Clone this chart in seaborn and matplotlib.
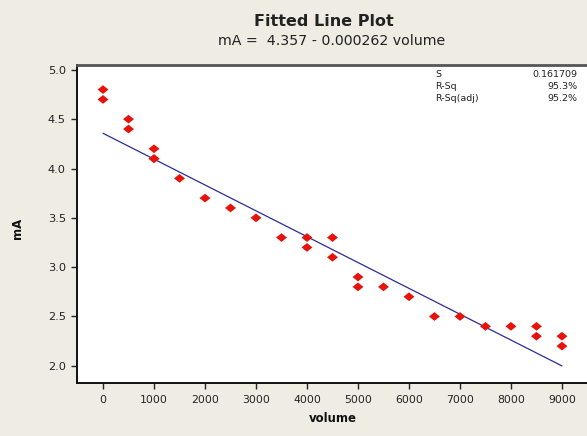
import matplotlib

matplotlib.use("Agg")
import matplotlib.pyplot as plt
import pandas as pd
import seaborn as sns

volume = [0, 0, 500, 500, 1000, 1000, 1000, 1500, 2000, 2500, 3000, 3500,
          4000, 4000, 4500, 4500, 5000, 5000, 5500, 6000, 6500, 7000, 7500,
          8000, 8500, 8500, 9000, 9000]
ma = [4.8, 4.7, 4.5, 4.4, 4.2, 4.1, 4.1, 3.9, 3.7, 3.6, 3.5, 3.3,
      3.3, 3.2, 3.3, 3.1, 2.9, 2.8, 2.8, 2.7, 2.5, 2.5, 2.4,
      2.4, 2.4, 2.3, 2.3, 2.2]

intercept = 4.357
slope = -0.000262
fit_range = [0, 9000]

stat_names = ["S", "R-Sq", "R-Sq(adj)"]
stat_values = ["0.161709", "95.3%", "95.2%"]

x_ticks = [0, 1000, 2000, 3000, 4000, 5000, 6000, 7000, 8000, 9000]
y_ticks = [2.0, 2.5, 3.0, 3.5, 4.0, 4.5, 5.0]

bg = "#efece4"
ink = "#222222"

sns.set_style("white")
plt.rcParams["font.family"] = ["DejaVu Sans"]

frame = pd.DataFrame({"volume": volume, "mA": ma})
fit = pd.DataFrame({"volume": fit_range})
fit["mA"] = intercept + slope * fit["volume"]

fig = plt.figure(figsize=(5.87, 4.36), dpi=100, facecolor=bg)
ax = fig.add_axes([0.1312, 0.1216, 0.88, 0.7295])
ax.set_facecolor("white")

# slightly wide diamond like the Minitab symbol
diamond = [(-1.0, 0.0), (0.0, 0.8), (1.0, 0.0), (0.0, -0.8), (-1.0, 0.0)]

sns.lineplot(data=fit, x="volume", y="mA", ax=ax, color="#2b2b9c", linewidth=0.9)
sns.scatterplot(data=frame, x="volume", y="mA", ax=ax, marker=diamond, s=62,
                color="#e8120c", edgecolor="none", zorder=3)

ax.set_xlim(-510, 9620)
ax.set_ylim(1.826, 5.05)
ax.set_xticks(x_ticks)
ax.set_yticks(y_ticks)
ax.set_yticklabels([f"{v:.1f}" for v in y_ticks])
ax.tick_params(axis="both", direction="out", length=4, width=1, color=ink,
               labelsize=7.8, labelcolor=ink, left=True, bottom=True)
ax.tick_params(axis="x", pad=5)
ax.tick_params(axis="y", labelsize=8.2, pad=4)

for side in ["left", "bottom"]:
    ax.spines[side].set_color("#111111")
    ax.spines[side].set_linewidth(1.4)
ax.spines["top"].set_color("#555555")
ax.spines["top"].set_linewidth(2)
ax.spines["right"].set_visible(False)

ax.set_xlabel("volume", fontsize=8.5, fontweight="bold", color="#111111")
ax.set_ylabel("mA", fontsize=8.5, fontweight="bold", color="#111111")
ax.xaxis.set_label_coords(0.496, -0.091)
ax.yaxis.set_label_coords(-0.102, 0.487)

fig.text(0.552, 0.95, "Fitted Line Plot", ha="center", va="center",
         fontsize=11.5, fontweight="bold", color=ink)
fig.text(0.565, 0.905, "mA =  4.357 - 0.000262 volume", ha="center", va="center",
         fontsize=10.2, color=ink)

for i, (name, value) in enumerate(zip(stat_names, stat_values)):
    y = 0.83 - i * 0.028
    fig.text(0.742, y, name, ha="left", va="center", fontsize=6.8, color=ink)
    fig.text(0.983, y, value, ha="right", va="center", fontsize=6.8, color=ink)

fig.savefig("out.png", dpi=100, facecolor=bg)
